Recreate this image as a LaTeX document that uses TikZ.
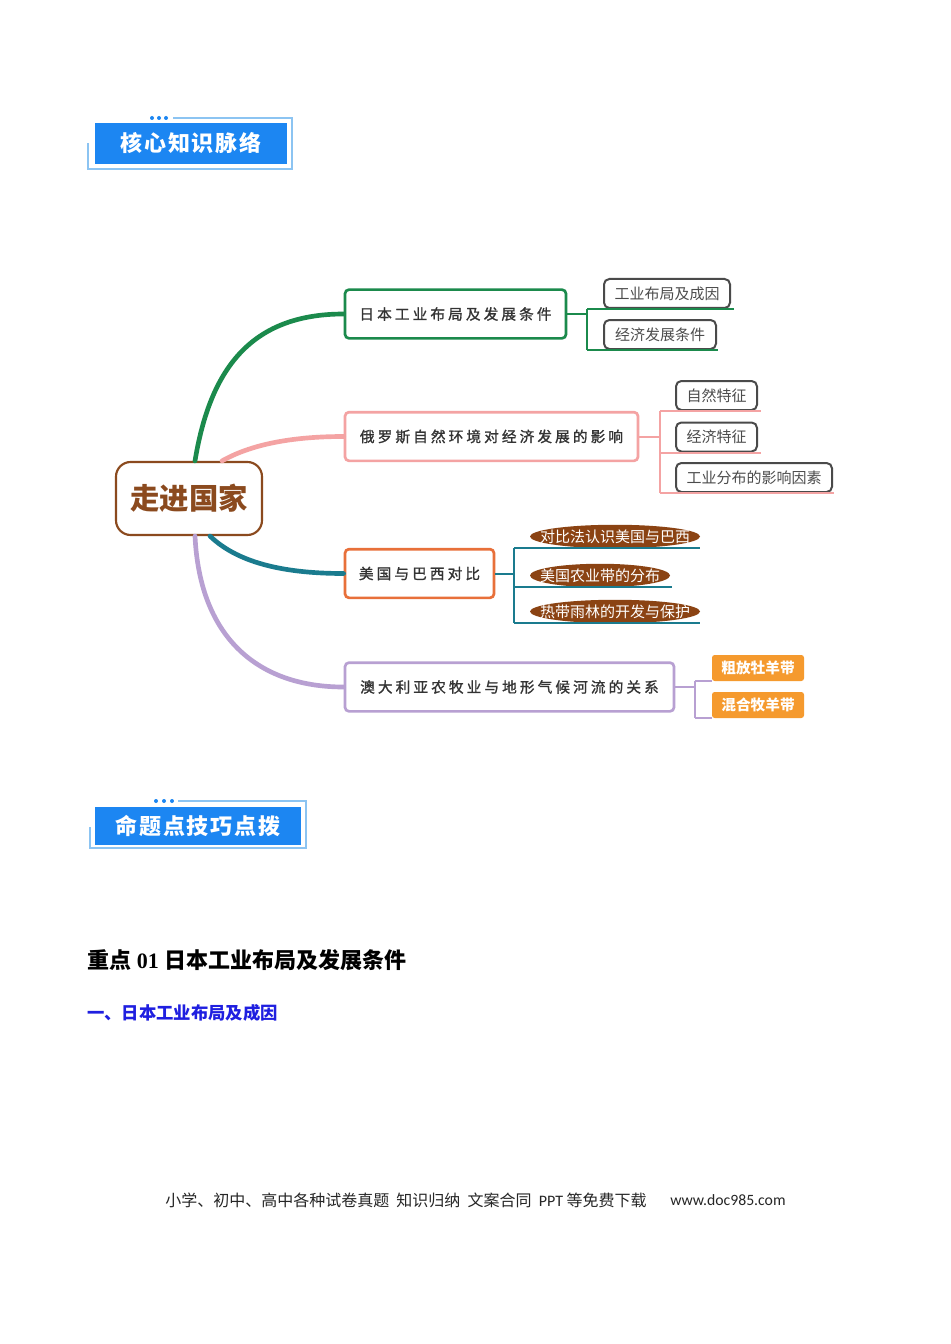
\documentclass[tikz,border=0pt]{standalone}
\usepackage{fontspec}
\setmainfont{Liberation Serif}
\newfontfamily\cjk{Noto Sans CJK SC}
\newfontfamily\cjksp[LetterSpace=21, FakeBold=1.2]{Noto Sans CJK SC}
\newfontfamily\cjkhd[LetterSpace=8]{Noto Sans CJK SC}
\newfontfamily\carl{Carlito}
\usetikzlibrary{backgrounds}
\definecolor{hdblue}{HTML}{1C86F2}
\definecolor{hdframe}{HTML}{8CC4F2}
\definecolor{mgreen}{HTML}{1B8A4C}
\definecolor{mpink}{HTML}{F4A3A3}
\definecolor{mteal}{HTML}{1A7B8E}
\definecolor{mpurple}{HTML}{B8A0D2}
\definecolor{mbrown}{HTML}{8B4A1E}
\definecolor{morangered}{HTML}{E8703A}
\definecolor{boxgray}{HTML}{4A4A4A}
\definecolor{ellbrown}{HTML}{8B4313}
\definecolor{morange}{HTML}{F59A2E}
\definecolor{hblue}{HTML}{1F1FE0}
\tikzset{
  hdr/.style={fill=hdblue, inner sep=0pt, text=white, font=\cjkhd\bfseries\fontsize{16.5}{18}\selectfont},
  hframe/.style={draw=hdframe, line width=1pt},
  hdot/.style={fill=hdblue},
  mainbox/.style={draw, line width=2pt, rounded corners=3pt, fill=white, inner sep=0pt, minimum height=36.5pt, text=black!80, font=\cjksp\fontsize{11}{13}\selectfont},
  childbox/.style={draw=boxgray, line width=1.5pt, rounded corners=4pt, fill=white, inner sep=0pt, minimum height=21.75pt, text=black!70, font=\cjk\fontsize{11.25}{13}\selectfont},
  elltext/.style={inner sep=0pt, minimum height=17.25pt, text=white, font=\cjk\fontsize{11.25}{13}\selectfont},
  orangebox/.style={fill=morange, rounded corners=2pt, inner sep=0pt, minimum width=69pt, minimum height=19.5pt, text=white, font=\cjk\bfseries\fontsize{11}{13}\selectfont},
  curve/.style={line width=3.5pt, line cap=round},
  bracket/.style={line width=1.5pt},
}
\begin{document}
\begin{tikzpicture}[x=0.75pt,y=-0.75pt]
\useasboundingbox (0,0) rectangle (950,1344);
\begin{scope}[on background layer]
  \fill[white] (0,0) rectangle (950,1344);
\end{scope}

% ---------- header 1
\draw[hframe] (173,118) -- (292,118) -- (292,169) -- (88,169) -- (88,143);
\foreach \xx in {152,159,166} \fill[hdot] (\xx,118) circle (1.5pt);
\node[hdr, minimum width=144pt, minimum height=30.75pt] (h1) at (191,143.5) {核心知识脉络};

% ---------- header 2
\draw[hframe] (178,801) -- (306,801) -- (306,848) -- (90,848) -- (90,827);
\foreach \xx in {156,164,172} \fill[hdot] (\xx,801) circle (1.5pt);
\node[hdr, minimum width=154.5pt, minimum height=28.5pt] (h2) at (198,826) {命题点技巧点拨};

% ---------- mind map nodes
\node[draw=mbrown, line width=1.6pt, rounded corners=11pt, fill=white, minimum width=109.5pt, minimum height=54.75pt, inner sep=0pt, text=mbrown, font=\cjk\bfseries\fontsize{22}{24}\selectfont] (cn) at (189,498.5) {走进国家};

\node[mainbox, draw=mgreen, minimum width=165.75pt] (b1) at (455.5,314) {日本工业布局及发展条件};
\node[mainbox, draw=mpink, minimum width=219.75pt] (b2) at (491.5,436.5) {俄罗斯自然环境对经济发展的影响};
\node[mainbox, draw=morangered, minimum width=111.75pt] (b3) at (419.5,573.5) {美国与巴西对比};
\node[mainbox, draw=mpurple, minimum width=246.75pt] (b4) at (509.5,687) {澳大利亚农牧业与地形气候河流的关系};

% children of b1
\node[childbox, minimum width=94.5pt] (c11) at (667,293.5) {工业布局及成因};
\node[childbox, minimum width=84pt] (c12) at (660,334.5) {经济发展条件};
% children of b2
\node[childbox, minimum width=60.75pt] (c21) at (716.5,395.5) {自然特征};
\node[childbox, minimum width=60.75pt] (c22) at (716.5,437) {经济特征};
\node[childbox, minimum width=117pt] (c23) at (754,477.5) {工业分布的影响因素};
% children of b3
\node[elltext, minimum width=127.5pt] (e1) at (615,536.5) {对比法认识美国与巴西};
\node[elltext, minimum width=105pt] (e2) at (600,575.5) {美国农业带的分布};
\node[elltext, minimum width=127.5pt] (e3) at (615,611.5) {热带雨林的开发与保护};
\begin{scope}[on background layer]
  \fill[ellbrown] (e1.center) ellipse [x radius=63.75pt, y radius=8.8pt];
  \fill[ellbrown] (e2.center) ellipse [x radius=52.5pt, y radius=8.8pt];
  \fill[ellbrown] (e3.center) ellipse [x radius=63.75pt, y radius=8.8pt];
\end{scope}
% children of b4
\node[orangebox] (o1) at (758,668) {粗放牡羊带};
\node[orangebox] (o2) at (758,705) {混合牧羊带};

% ---------- main curves
\draw[curve, mgreen] ([xshift=4.5pt]cn.north) .. controls (210,370) and (250,314) .. (b1.west);
\draw[curve, mpink] ([xshift=24.75pt]cn.north) .. controls (250,445) and (290,436.5) .. (b2.west);
\draw[curve, mteal] ([xshift=15.75pt]cn.south) .. controls (240,565) and (290,573.5) .. (b3.west);
\draw[curve, mpurple] ([xshift=4.5pt]cn.south) .. controls (200,640) and (260,687) .. (b4.west);

% ---------- brackets
\coordinate (j1) at (587,314);
\draw[bracket, mgreen] (b1.east) -- (j1);
\draw[bracket, mgreen] (j1 |- c11.south) -- (j1 |- c12.south);
\draw[bracket, mgreen] (j1 |- c11.south) -- ([xshift=2pt]c11.south east);
\draw[bracket, mgreen] (j1 |- c12.south) -- ([xshift=1pt]c12.south east);

\coordinate (j2) at (660,436.5);
\draw[bracket, mpink] (b2.east) -- (j2);
\draw[bracket, mpink] (j2 |- c21.south) -- (j2 |- c23.south);
\draw[bracket, mpink] (j2 |- c21.south) -- ([xshift=2pt]c21.south east);
\draw[bracket, mpink] (j2 |- c22.south) -- ([xshift=2pt]c22.south east);
\draw[bracket, mpink] (j2 |- c23.south) -- ([xshift=1pt]c23.south east);

\coordinate (j3) at (514,573.5);
\draw[bracket, mteal] (b3.east) -- (j3);
\draw[bracket, mteal] (j3 |- e1.south) -- (j3 |- e3.south);
\draw[bracket, mteal] (j3 |- e1.south) -- (e1.south east);
\draw[bracket, mteal] (j3 |- e2.south) -- ([xshift=1.5pt]e2.south east);
\draw[bracket, mteal] (j3 |- e3.south) -- (e3.south east);

\coordinate (j4) at (695,687);
\draw[bracket, mpurple] (b4.east) -- (j4);
\draw[bracket, mpurple] (j4 |- o1.south) -- (j4 |- o2.south);
\draw[bracket, mpurple] (j4 |- o1.south) -- (o1.south west);
\draw[bracket, mpurple] (j4 |- o2.south) -- (o2.south west);

% ---------- text section
\node[anchor=west, inner sep=0pt, font=\fontsize{16.5}{19}\selectfont\bfseries] (t1) at (87,960) {{\cjk\bfseries 重点} 01 {\cjk\bfseries 日本工业布局及发展条件}};
\node[anchor=west, inner sep=0pt, text=hblue, font=\cjk\bfseries\fontsize{13}{15}\selectfont] (t2) at (87,1013) {一、日本工业布局及成因};

% ---------- footer
\node[anchor=west, inner sep=0pt, font=\cjk\fontsize{12}{14}\selectfont, text=black!85] (f1) at (165,1200) {小学、初中、高中各种试卷真题\ \ 知识归纳\ \ 文案合同\ \ {\carl PPT} 等免费下载};
\node[anchor=west, inner sep=0pt, font=\carl\fontsize{11.8}{14}\selectfont, text=black!85] (f2) at (670,1200) {www.doc985.com};
\end{tikzpicture}
\end{document}
